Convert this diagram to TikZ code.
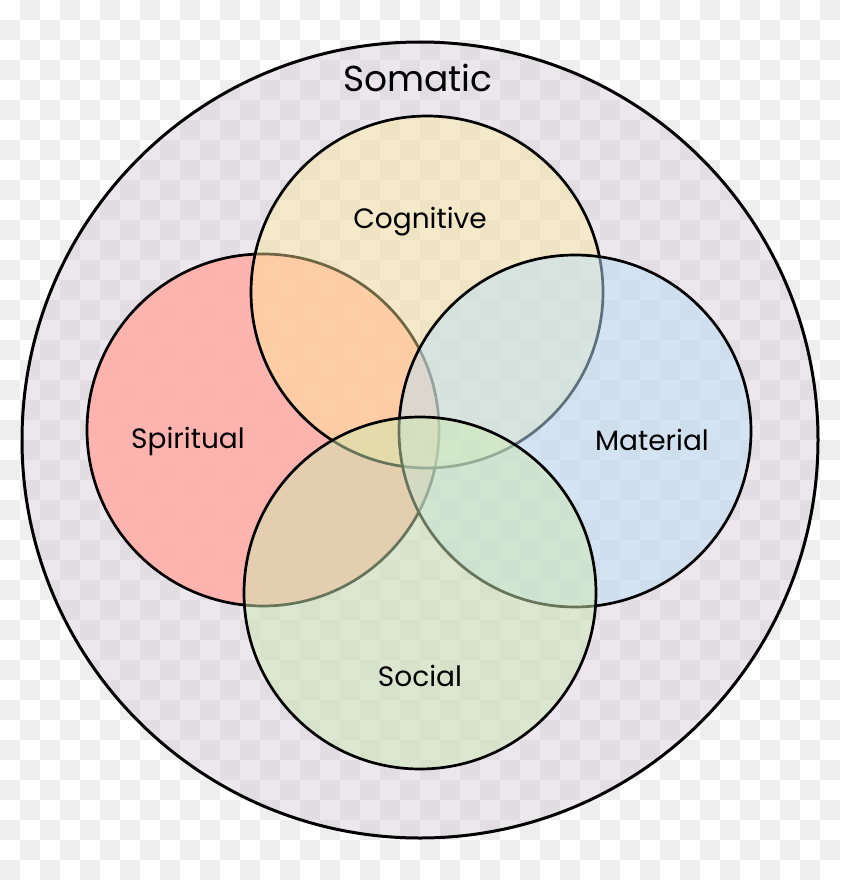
\documentclass[tikz,border=0pt]{standalone}
\usepackage{fontspec}
\setmainfont{Poppins}
\definecolor{checkgray}{RGB}{238,238,238}
\definecolor{somaticc}{RGB}{211,196,213}
\definecolor{spiritc}{RGB}{255,176,170}
\definecolor{cognc}{RGB}{255,238,154}
\definecolor{materc}{RGB}{189,225,248}
\definecolor{socialc}{RGB}{205,233,178}
\tikzset{
  venn/.style={circle, draw=black, line width=2.7pt, minimum size=352pt, inner sep=0pt},
  lbl/.style={font=\fontsize{28}{30}\selectfont, text=black, inner sep=0pt},
}
\begin{document}
\begin{tikzpicture}[x=1pt,y=-1pt]
\useasboundingbox (0,0) rectangle (840,880);
\fill[white] (0,0) rectangle (840,880);
\foreach \i in {0,2,...,40}{
  \foreach \j in {1,3,...,43}{
    \fill[checkgray] (\i*20,\j*20) rectangle ++(20,20);
    \fill[checkgray] (\i*20+20,\j*20-20) rectangle ++(20,20);
  }
}
\node (somatic) [circle, draw=black, line width=3pt, minimum size=796pt, inner sep=0pt, fill=somaticc, fill opacity=0.41] at (420,440) {};
\node (spiritual) [venn, fill=spiritc, fill opacity=0.92] at (263,430) {};
\node (cognitive) [venn, fill=cognc, fill opacity=0.43] at (427,292) {};
\node (material) [venn, fill=materc, fill opacity=0.5] at (575,431) {};
\node (social) [venn, fill=socialc, fill opacity=0.5] at (420,593) {};
\node (tsom) [lbl, font=\fontsize{36}{40}\selectfont] at (418,78) {Somatic};
\node (tcog) [lbl] at (420,222) {Cognitive};
\node (tspi) [lbl] at (188,441) {Spiritual};
\node (tmat) [lbl] at (652,440) {Material};
\node (tsoc) [lbl] at (420,676) {Social};
\end{tikzpicture}
\end{document}
